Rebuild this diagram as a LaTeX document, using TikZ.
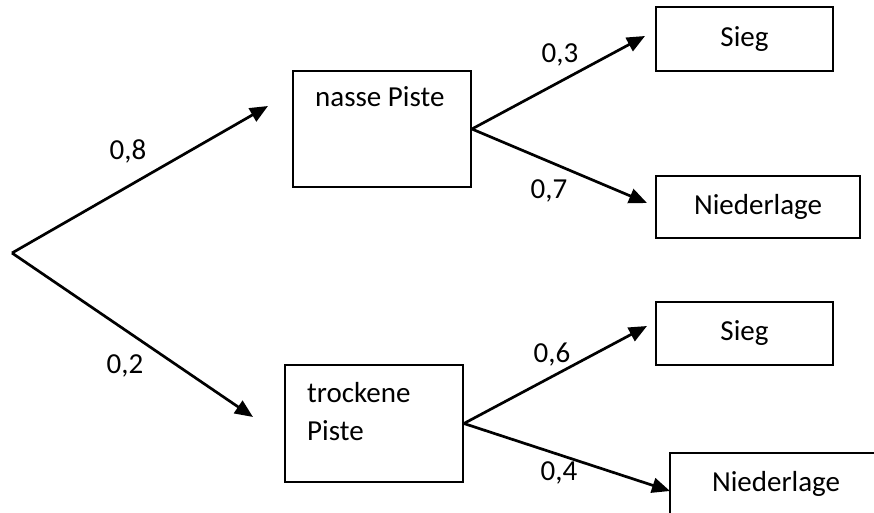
\documentclass[tikz,border=0pt]{standalone}
\usepackage{fontspec}
\setmainfont{Carlito}
\usetikzlibrary{arrows.meta}
\begin{document}
\begin{tikzpicture}[x=1pt,y=-1pt,
  every node/.style={font=\fontsize{29}{38}\selectfont},
  box/.style={draw,line width=1.8pt,rectangle,inner sep=0pt},
  txt/.style={inner sep=0pt},
  edge/.style={line width=2.7pt,-{Triangle[length=18pt,width=15pt]}},
  prob/.style={inner sep=0pt,anchor=base}]
\clip (0,0) rectangle (874,513);
% boxes
\node[box,minimum width=178pt,minimum height=116pt] (np) at (382,129) {};
\node[box,minimum width=178pt,minimum height=117pt] (tp) at (374,423.5) {};
\node[box,minimum width=177pt,minimum height=64pt] (s1) at (744.5,39) {\raisebox{-3pt}{Sieg}};
\node[box,minimum width=204pt,minimum height=62pt] (n1) at (758,207) {Niederlage};
\node[box,minimum width=177pt,minimum height=63pt] (s2) at (744.5,333.5) {\raisebox{-3pt}{Sieg}};
\node[box,minimum width=212pt,minimum height=62pt] (n2) at (776,484) {Niederlage};
% box texts
\node[txt,anchor=base west] (npt) at (315,107) {nasse Piste};
\node[txt,anchor=base west] (tpt1) at (307,402) {trockene};
\node[txt,anchor=base west] (tpt2) at (307,440) {Piste};
% points
\coordinate (root) at (12,253);
\coordinate (t1) at (268,106);
\coordinate (t2) at (253,417);
\coordinate (t3) at (645,36);
\coordinate (t4) at (647,203);
\coordinate (t5) at (647,326);
\coordinate (t6) at (670,491);
% edges
\draw[edge] (root) -- (t1);
\draw[edge] (root) -- (t2);
\draw[edge] (np.east) -- (t3);
\draw[edge] (np.east) -- (t4);
\draw[edge] (tp.east) -- (t5);
\draw[edge] (tp.east) -- (t6);
% probabilities
\node[prob] (p1) at (128,160) {0,8};
\node[prob] (p2) at (125,373) {0,2};
\node[prob] (p3) at (560,63) {0,3};
\node[prob] (p4) at (549,198) {0,7};
\node[prob] (p5) at (552,362) {0,6};
\node[prob] (p6) at (559,480) {0,4};
\end{tikzpicture}
\end{document}
